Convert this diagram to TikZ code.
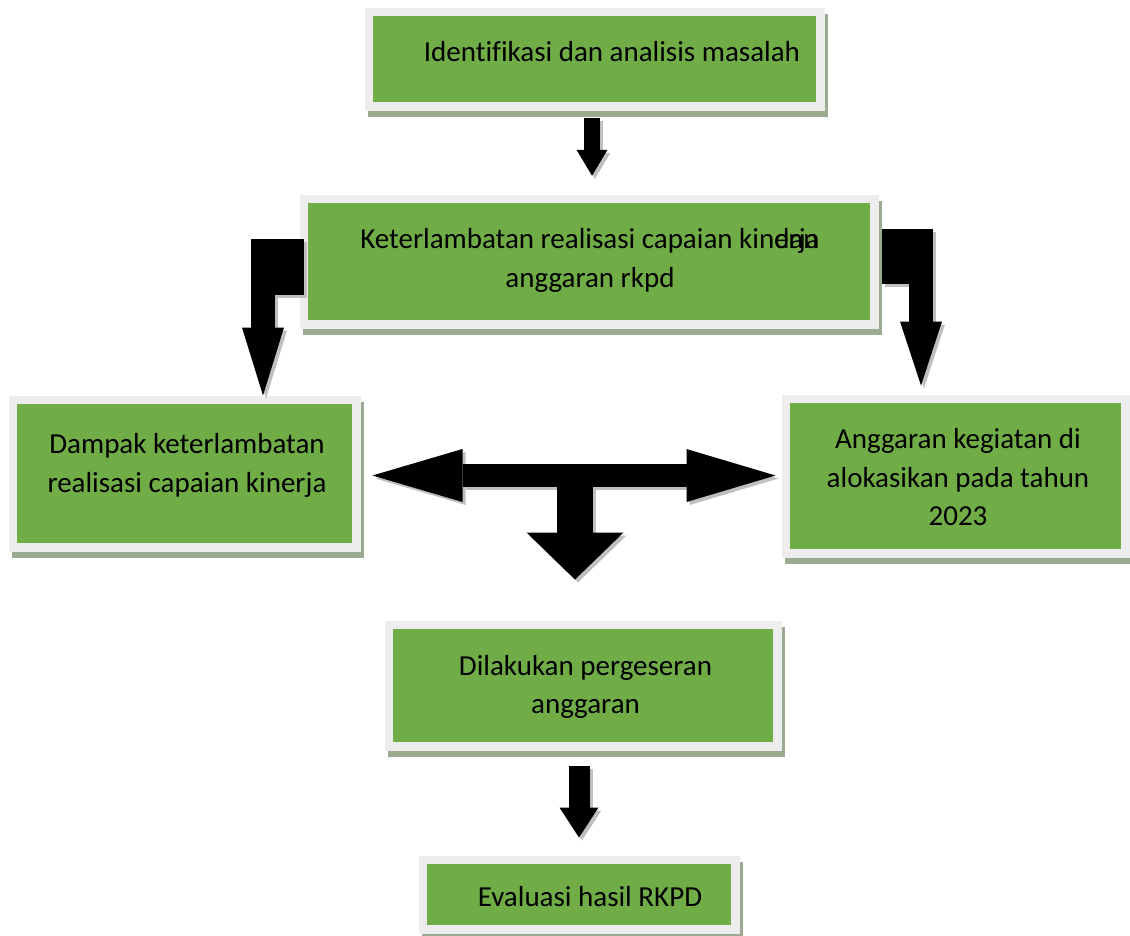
\documentclass[tikz,border=0pt]{standalone}
\usepackage{fontspec}
\setmainfont{Carlito}[Ligatures=CommonOff]
\usetikzlibrary{arrows.meta}

\definecolor{hijau}{HTML}{70AD47}
\definecolor{tepi}{HTML}{EDEDED}
\definecolor{bayang}{HTML}{9CAA91}
\definecolor{abu}{HTML}{BFBFBF}

\tikzset{
  kotak/.style={rectangle, fill=hijau, draw=tepi, line width=8.5pt, inner sep=0pt,
    preaction={fill=bayang, draw=bayang, transform canvas={xshift=3pt,yshift=-6pt}}},
  teks/.style={inner sep=0pt, align=center, font=\fontsize{29pt}{38.5pt}\selectfont},
  ujung/.style={line width=#1, line cap=butt}
}

% panah blok, #1 = warna
\newcommand{\panahblok}[1]{
  \draw[#1, ujung=16pt, -{Triangle[length=26pt,width=31pt,line width=0pt]}, shorten >=18.75pt]
    ([xshift=-2.5pt,yshift=-7pt]kotak1.south) -- ([xshift=-2.5pt]kotak1.south |- kotak2.north);
  % kiri
  \draw[#1, ujung=56pt] ([xshift=4pt,yshift=-5.5pt]kotak2.west) -- ([yshift=-5.5pt]kotak2.west -| 251,0);
  \draw[#1, ujung=24pt, -{Triangle[length=68pt,width=42pt,line width=0pt]}]
    (263,239) -- (263,0 |- kotak3.north);
  % kanan
  \draw[#1, ujung=55pt] ([xshift=3pt,yshift=5pt]kotak2.east) -- ([yshift=5pt]kotak2.east -| 933,0);
  \draw[#1, ujung=24pt, -{Triangle[length=64pt,width=42pt,line width=0pt]}, shorten >=9pt]
    (921,229) -- (921,0 |- kotak4.north);
  % tengah
  \draw[#1, ujung=23pt, {Triangle[length=90pt,width=53pt,line width=0pt]}-{Triangle[length=89pt,width=53pt,line width=0pt]}]
    ([xshift=12pt]kotak3.east |- tengah) -- ([xshift=-6pt]kotak4.west |- tengah);
  \draw[#1, ujung=36pt, -{Triangle[length=47pt,width=97pt,line width=0pt]}, shorten >=41pt]
    (tengah) -- (tengah |- kotak5.north);
  % bawah
  \draw[#1, ujung=21pt, -{Triangle[length=30pt,width=39pt,line width=0pt]}, shorten >=18pt]
    ([yshift=-15pt]kotak6.north |- kotak5.south) -- (kotak6.north);
}

\begin{document}
\begin{tikzpicture}[x=1pt,y=-1pt]
\useasboundingbox (0,0) rectangle (1130,935);

\node[kotak, minimum width=451.5pt, minimum height=94.5pt] (kotak1) at (594.5,59) {};
\node[kotak, minimum width=570.5pt, minimum height=125.5pt] (kotak2) at (589,261.5) {};
\node[kotak, minimum width=343.5pt, minimum height=147.5pt] (kotak3) at (184.5,473.5) {};
\node[kotak, minimum width=339.5pt, minimum height=154.5pt] (kotak4) at (955.5,476) {};
\node[kotak, minimum width=388.5pt, minimum height=121.5pt] (kotak5) at (583,685.5) {};
\node[kotak, minimum width=312.5pt, minimum height=69.5pt] (kotak6) at (579,894.5) {};

\coordinate (tengah) at (575,475.5);

\begin{scope}[transform canvas={xshift=3pt,yshift=-3pt}]
  \panahblok{abu}
\end{scope}
\panahblok{black}

\node[teks] (teks1) at ([xshift=17.5pt,yshift=7pt]kotak1) {Identifikasi dan analisis masalah};
\node[teks] (teks2) at ([xshift=1pt,yshift=1pt]kotak2) {Keterlambatan realisasi capaian kin\rlap{dan}erja\\anggaran rkpd};
\node[teks] (teks3) at ([xshift=2.5pt,yshift=8pt]kotak3) {Dampak keterlambatan\\realisasi capaian kinerja};
\node[teks] (teks4) at ([xshift=2.5pt,yshift=-1.5pt]kotak4) {Anggaran kegiatan di\\alokasikan pada tahun\\2023};
\node[teks] (teks5) at ([xshift=2.5pt,yshift=-1.5pt]kotak5) {Dilakukan pergeseran\\anggaran};
\node[teks] (teks6) at ([xshift=11pt,yshift=-2.5pt]kotak6) {Evaluasi hasil RKPD};

\end{tikzpicture}
\end{document}
